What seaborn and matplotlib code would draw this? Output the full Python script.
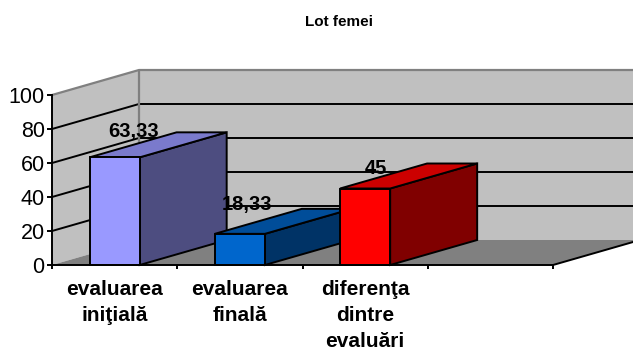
import numpy as np
import pandas as pd
import matplotlib
matplotlib.use("Agg")
import matplotlib.pyplot as plt
from matplotlib.patches import Polygon
import seaborn as sns

categories = ["evaluarea\niniţială", "evaluarea\nfinală", "diferenţa\ndintre\nevaluări"]
values = [63.33, 18.33, 45]
value_labels = ["63,33", "18,33", "45"]
y_ticks = [0, 20, 40, 60, 80, 100]

front_colors = ["#9999FF", "#0066CC", "#FF0000"]
side_colors = ["#4D4D80", "#003366", "#800000"]
top_colors = ["#7A7ACC", "#004D99", "#CC0000"]

sns.set_theme(style="white")
plt.rcParams["font.family"] = ["Liberation Sans", "DejaVu Sans"]

W, H = 633, 354
fig = plt.figure(figsize=(W / 100, H / 100), dpi=100, facecolor="white")
ax = fig.add_axes([52 / W, (H - 265) / H, 501 / W, 170 / H])
ax.patch.set_visible(False)

df = pd.DataFrame({"cat": categories, "val": values})
sns.barplot(data=df, x="cat", y="val", hue="cat", palette=front_colors,
            width=0.4, legend=False, ax=ax, saturation=1)
ax.set_xlim(-0.5, 3.5)
ax.set_ylim(0, 100)
ax.set_xlabel("")
ax.set_ylabel("")

# Oblique projection: depth shift expressed in axis units
dx = 87 / (501 / 4)
dy = 25 / 1.7
x0, x1 = -0.5, 3.5
lw = 1.4


def poly(points, face, edge="none", z=1, width=lw):
    ax.add_patch(Polygon(points, closed=True, facecolor=face, edgecolor=edge,
                         linewidth=width, zorder=z, clip_on=False, joinstyle="miter"))


def line(xs, ys, color="black", z=2, width=lw):
    ax.plot(xs, ys, color=color, lw=width, zorder=z, clip_on=False,
            solid_capstyle="butt", solid_joinstyle="miter")


# Walls
poly([(x0, 0), (x0 + dx, dy), (x0 + dx, 100 + dy), (x0, 100)], "#C0C0C0", z=1)
poly([(x0 + dx, dy), (x1 + dx, dy), (x1 + dx, 100 + dy), (x0 + dx, 100 + dy)], "#C0C0C0", z=1)

# Gridlines on both walls
for t in y_ticks[1:-1]:
    line([x0, x0 + dx, x1 + dx], [t, t + dy, t + dy], z=2, width=1.4)

# Wall outline
line([x0, x0 + dx, x1 + dx], [100, 100 + dy, 100 + dy], color="#808080", z=2, width=1.6)
line([x0 + dx, x0 + dx], [dy, 100 + dy], color="#808080", z=2, width=1.6)

# Floor
poly([(x0, 0), (x1, 0), (x1 + dx, dy), (x0 + dx, dy)], "#808080", z=3)
line([x1, x1 + dx], [0, dy], z=4)

# Bars: seaborn draws the front faces, depth faces are added from the same bars
bars = [p for p in ax.patches if isinstance(p, matplotlib.patches.Rectangle)]
bars = sorted(bars, key=lambda p: p.get_x())
for i, bar in enumerate(bars):
    left, right = bar.get_x(), bar.get_x() + bar.get_width()
    v = bar.get_height()
    z = 5 + i
    poly([(right, 0), (right + dx, dy), (right + dx, v + dy), (right, v)], side_colors[i], "black", z)
    poly([(left, v), (right, v), (right + dx, v + dy), (left + dx, v + dy)], top_colors[i], "black", z)
    bar.set_zorder(z + 0.5)
    bar.set_edgecolor("black")
    bar.set_linewidth(lw)
    bar.set_clip_on(False)

# Value labels sit above the depth face of each bar
label_offsets = [(19, 26), (7, 29), (11, 20)]
for bar, text, (ox, oy) in zip(bars, value_labels, label_offsets):
    ax.annotate(text, xy=(bar.get_x() + bar.get_width() / 2, bar.get_height()),
                xytext=(ox * 0.72, oy * 0.72), textcoords="offset points",
                ha="center", va="center", fontsize=14.5, fontweight="bold",
                color="black", zorder=20, annotation_clip=False)

# Axes
for side in ("top", "right"):
    ax.spines[side].set_visible(False)
for side in ("left", "bottom"):
    ax.spines[side].set_color("black")
    ax.spines[side].set_linewidth(lw)
    ax.spines[side].set_zorder(15)

ax.set_yticks(y_ticks)
ax.tick_params(axis="y", which="major", length=3.5, width=lw, color="black", left=True,
               labelsize=15.5, pad=1.8, labelcolor="black")

# Category boundaries carry the tick marks, category centres carry the names
ax.set_xticks(np.arange(x0, x1 + 0.5, 1.0))
ax.set_xticklabels([""] * 5)
ax.set_xticks(np.arange(len(categories)), labels=categories, minor=True)
ax.tick_params(axis="x", which="major", length=3, width=lw, color="black", bottom=True)
ax.tick_params(axis="x", which="minor", length=0, pad=10.5, labelsize=15, labelcolor="black")
for lab in ax.get_xticklabels(minor=True):
    lab.set_fontweight("bold")
    lab.set_linespacing(1.48)

fig.text(339 / W, 1 - 22 / H, "Lot femei", ha="center", va="center",
         fontsize=11, fontweight="bold", color="black")

fig.savefig("out.png", dpi=100)
